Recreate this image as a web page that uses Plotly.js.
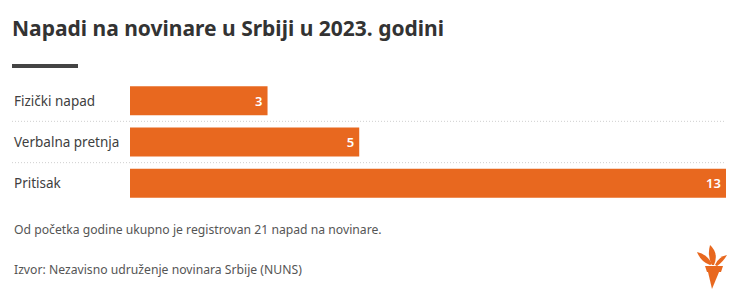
<!DOCTYPE html>
<html>
<head>
<meta charset="utf-8">
<script src="https://cdn.plot.ly/plotly-3.0.1.min.js"></script>
<style>
html,body{margin:0;padding:0;background:#fff;}
#chart{width:741px;height:307px;}
</style>
</head>
<body>
<div id="chart"></div>
<script>
const categories = ["Fizički napad", "Verbalna pretnja", "Pritisak"];
const values = [3, 5, 13];
const titleText = "Napadi na novinare u Srbiji u 2023. godini";
const noteText = "Od početka godine ukupno je registrovan 21 napad na novinare.";
const sourceText = "Izvor: Nezavisno udruženje novinara Srbije (NUNS)";

const W = 741, H = 307;
const M = {l: 130, r: 15, t: 80, b: 103};
const PW = W - M.l - M.r, PH = H - M.t - M.b;
const FONT = "'Noto Sans', 'Open Sans', sans-serif";
const ORANGE = "#E8681F";

function px(x, y) { return ((x - M.l) / PW).toFixed(4) + "," + ((H - M.b - y) / PH).toFixed(4); }

const trace = {
  type: "bar",
  orientation: "h",
  y: categories,
  x: values,
  text: values.map(v => String(v) + "\u2009"),
  textposition: "inside",
  insidetextanchor: "end",
  textfont: {family: FONT, size: 13, color: "#ffffff", weight: 600},
  marker: {color: ORANGE},
  width: 0.7,
  hoverinfo: "skip",
  cliponaxis: false
};

const leftPx = 12;
const shapes = [];
// dotted separators
for (let i = 0; i < categories.length - 1; i++) {
  shapes.push({type: "line", xref: "paper", yref: "y", x0: (leftPx - M.l) / PW, x1: 1,
    y0: i + 0.5, y1: i + 0.5, line: {color: "#cfcfcf", width: 1, dash: "1px,2px"}, layer: "below"});
}
// title underline bar
shapes.push({type: "rect", xref: "paper", yref: "paper",
  x0: (12 - M.l) / PW, x1: (78 - M.l) / PW, y0: (H - M.b - 68) / PH, y1: (H - M.b - 64) / PH,
  fillcolor: "#444444", line: {width: 0}});
// logo (torch)
const logo = [
  // handle
  "M " + px(708, 272) + " L " + px(719, 272) + " L " + px(712, 289) + " Z",
  // cup
  "M " + px(705, 266) + " L " + px(723, 266) + " L " + px(721, 272) + " L " + px(707, 272) + " Z",
  // center flame
  "M " + px(712, 265) + " Q " + px(707, 256) + " " + px(710, 245) + " Q " + px(719, 253) + " " + px(714, 265) + " Z",
  // left flame
  "M " + px(710, 265) + " Q " + px(701, 262) + " " + px(697, 252) + " Q " + px(707, 254) + " " + px(712, 264) + " Z",
  // right flame
  "M " + px(715, 265) + " Q " + px(718, 257) + " " + px(727, 255) + " Q " + px(723, 262) + " " + px(717, 266) + " Z"
];
logo.forEach(p => shapes.push({type: "path", xref: "paper", yref: "paper", path: p,
  fillcolor: ORANGE, line: {width: 0}}));

const annotations = categories.map(c => ({
  xref: "paper", yref: "y", x: (leftPx - M.l) / PW, y: c, xanchor: "left", yanchor: "middle",
  text: c, showarrow: false, font: {family: FONT, size: 13.5, color: "#404040"}
}));
annotations.push({xref: "paper", yref: "paper", x: (12 - M.l) / PW, y: (H - M.b - 229) / PH,
  xanchor: "left", yanchor: "middle", text: noteText, showarrow: false,
  font: {family: FONT, size: 12.2, color: "#555555"}});
annotations.push({xref: "paper", yref: "paper", x: (12 - M.l) / PW, y: (H - M.b - 269) / PH,
  xanchor: "left", yanchor: "middle", text: sourceText, showarrow: false,
  font: {family: FONT, size: 12.2, color: "#555555"}});

const layout = {
  width: W, height: H,
  margin: M,
  paper_bgcolor: "#ffffff", plot_bgcolor: "#ffffff",
  showlegend: false,
  title: {text: "<b>" + titleText + "</b>", xref: "container", yref: "container",
    x: 12 / W, xanchor: "left", y: 1 - 29 / H, yanchor: "middle",
    font: {family: FONT, size: 21, color: "#333333"}},
  xaxis: {range: [0, 13], showgrid: false, zeroline: false, showticklabels: false, ticks: "", fixedrange: true},
  yaxis: {type: "category", categoryorder: "array", categoryarray: categories, autorange: "reversed",
    showgrid: false, zeroline: false, showticklabels: false, ticks: "", fixedrange: true},
  shapes: shapes,
  annotations: annotations
};

Plotly.newPlot("chart", [trace], layout, {displayModeBar: false, staticPlot: true});
</script>
</body>
</html>
